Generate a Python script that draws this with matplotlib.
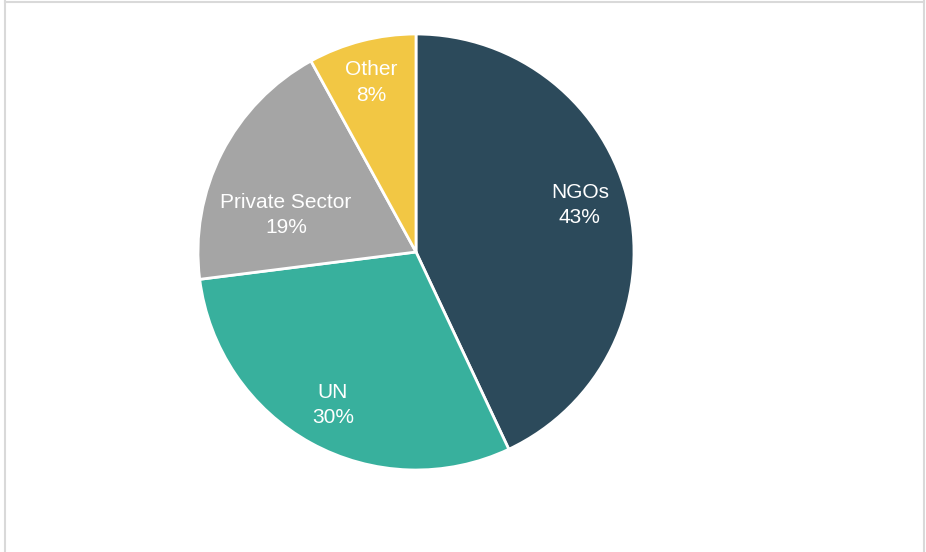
import matplotlib
matplotlib.use('Agg')
import matplotlib.pyplot as plt
from matplotlib.lines import Line2D

labels = ['NGOs', 'UN', 'Private Sector', 'Other']
shares = [43, 30, 19, 8]
colors = ['#2C4A5B', '#38B09D', '#A5A5A5', '#F2C744']

plt.rcParams['font.family'] = ['Liberation Sans', 'DejaVu Sans']

fig = plt.figure(figsize=(9.26, 5.52), dpi=100)
# pie centre ~ (416, 252) px, radius ~218 px
cx, cy, r = 416, 252, 218
ax = fig.add_axes([(cx - r) / 926, (552 - cy - r) / 552, 2 * r / 926, 2 * r / 552])

texts = [f'{l}\n{s}%' for l, s in zip(labels, shares)]
wedges, txt = ax.pie(shares, labels=texts, colors=colors, startangle=90,
                     counterclock=False, labeldistance=0.78,
                     wedgeprops=dict(edgecolor='white', linewidth=2),
                     textprops=dict(color='white', fontsize=15, ha='center',
                                    va='center', linespacing=1.45))
# label spots as Excel placed them (fractions of the radius)
label_pos = [(0.752, 0.216), (-0.381, -0.702), (-0.596, 0.17), (-0.205, 0.778)]
for t, p in zip(txt, label_pos):
    t.set_horizontalalignment('center')
    t.set_position(p)
ax.set_xlim(-1, 1)
ax.set_ylim(-1, 1)
ax.axis('off')

# thin grey frame like the chart area border
for xs, ys in [([4.5 / 926, 4.5 / 926], [0, 1 - 1 / 552]),
               ([4.5 / 926, 923.5 / 926], [1 - 1.5 / 552, 1 - 1.5 / 552]),
               ([923.5 / 926, 923.5 / 926], [0, 1 - 1 / 552])]:
    fig.add_artist(Line2D(xs, ys, color='#D9D9D9', linewidth=1.5,
                          transform=fig.transFigure))

fig.savefig('out.png', dpi=100)
